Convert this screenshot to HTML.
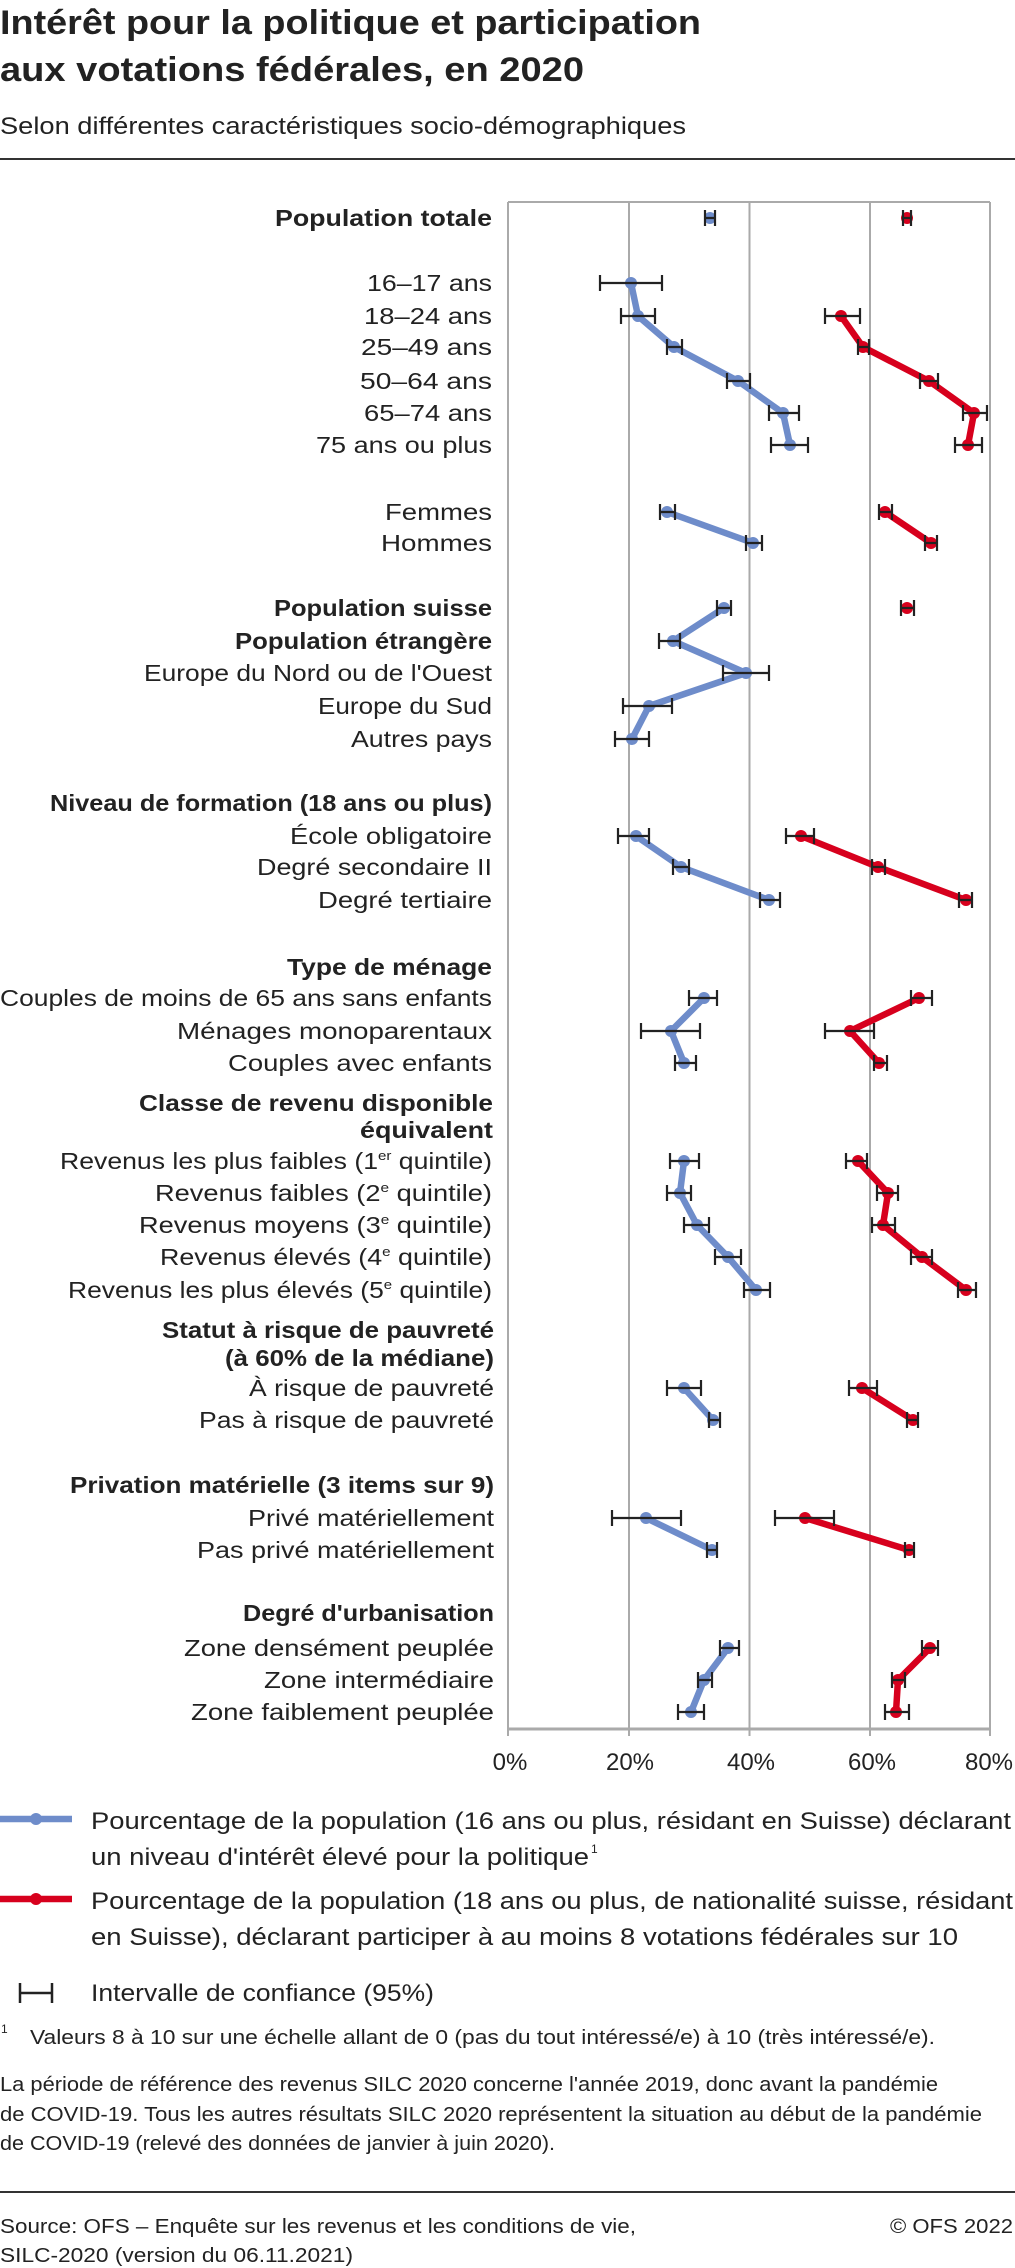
<!DOCTYPE html>
<html><head><meta charset="utf-8"><style>
html,body{margin:0;padding:0;background:#fff;}
svg{display:block;}
text{font-family:"Liberation Sans",sans-serif;fill:#222;}
.b{font-weight:bold;}
.l{font-size:23px;}
</style></head><body>
<svg width="1015" height="2268" viewBox="0 0 1015 2268" xmlns="http://www.w3.org/2000/svg">
<text x="0" y="34" class="b" font-size="34" textLength="701" lengthAdjust="spacingAndGlyphs">Intérêt pour la politique et participation</text>
<text x="0" y="81" class="b" font-size="34" textLength="584" lengthAdjust="spacingAndGlyphs">aux votations fédérales, en 2020</text>
<text x="0" y="134" font-size="24" fill="#333" textLength="686" lengthAdjust="spacingAndGlyphs">Selon différentes caractéristiques socio-démographiques</text>
<line x1="0" y1="159" x2="1015" y2="159" stroke="#333" stroke-width="2"/>

<!-- plot frame -->
<g stroke="#aaa" stroke-width="2" fill="none">
<line x1="508" y1="202" x2="990" y2="202"/>
<line x1="508" y1="202" x2="508" y2="1736"/>
<line x1="629" y1="202" x2="629" y2="1736"/>
<line x1="749.5" y1="202" x2="749.5" y2="1736"/>
<line x1="870" y1="202" x2="870" y2="1736"/>
<line x1="990" y1="202" x2="990" y2="1736"/>
<line x1="508" y1="1729" x2="990" y2="1729" stroke-width="3"/>
</g>
<g font-size="24" text-anchor="middle">
<text x="510" y="1770">0%</text><text x="630" y="1770">20%</text><text x="751" y="1770">40%</text><text x="872" y="1770">60%</text><text x="989" y="1770">80%</text>
</g>

<!-- labels -->
<g class="l">
<text x="275" y="226" class="b" textLength="217" lengthAdjust="spacingAndGlyphs">Population totale</text>
<text x="367" y="291" textLength="125" lengthAdjust="spacingAndGlyphs">16–17 ans</text>
<text x="364" y="324" textLength="128" lengthAdjust="spacingAndGlyphs">18–24 ans</text>
<text x="361" y="355" textLength="131" lengthAdjust="spacingAndGlyphs">25–49 ans</text>
<text x="360" y="389" textLength="132" lengthAdjust="spacingAndGlyphs">50–64 ans</text>
<text x="364" y="421" textLength="128" lengthAdjust="spacingAndGlyphs">65–74 ans</text>
<text x="316" y="453" textLength="176" lengthAdjust="spacingAndGlyphs">75 ans ou plus</text>
<text x="385" y="520" textLength="107" lengthAdjust="spacingAndGlyphs">Femmes</text>
<text x="381" y="551" textLength="111" lengthAdjust="spacingAndGlyphs">Hommes</text>
<text x="274" y="616" class="b" textLength="218" lengthAdjust="spacingAndGlyphs">Population suisse</text>
<text x="235" y="649" class="b" textLength="257" lengthAdjust="spacingAndGlyphs">Population étrangère</text>
<text x="144" y="681" textLength="348" lengthAdjust="spacingAndGlyphs">Europe du Nord ou de l'Ouest</text>
<text x="318" y="714" textLength="174" lengthAdjust="spacingAndGlyphs">Europe du Sud</text>
<text x="351" y="747" textLength="141" lengthAdjust="spacingAndGlyphs">Autres pays</text>
<text x="50" y="811" class="b" textLength="442" lengthAdjust="spacingAndGlyphs">Niveau de formation (18 ans ou plus)</text>
<text x="290" y="844" textLength="202" lengthAdjust="spacingAndGlyphs">École obligatoire</text>
<text x="257" y="875" textLength="235" lengthAdjust="spacingAndGlyphs">Degré secondaire II</text>
<text x="318" y="908" textLength="174" lengthAdjust="spacingAndGlyphs">Degré tertiaire</text>
<text x="287" y="975" class="b" textLength="205" lengthAdjust="spacingAndGlyphs">Type de ménage</text>
<text x="0" y="1006" textLength="492" lengthAdjust="spacingAndGlyphs">Couples de moins de 65 ans sans enfants</text>
<text x="177" y="1039" textLength="315" lengthAdjust="spacingAndGlyphs">Ménages monoparentaux</text>
<text x="228" y="1071" textLength="264" lengthAdjust="spacingAndGlyphs">Couples avec enfants</text>
<text x="139" y="1111" class="b" textLength="354" lengthAdjust="spacingAndGlyphs">Classe de revenu disponible</text>
<text x="360" y="1138" class="b" textLength="133" lengthAdjust="spacingAndGlyphs">équivalent</text>
<text x="60" y="1169" textLength="432" lengthAdjust="spacingAndGlyphs">Revenus les plus faibles (1<tspan dy="-9" font-size="13">er</tspan><tspan dy="9"> quintile)</tspan></text>
<text x="155" y="1201" textLength="337" lengthAdjust="spacingAndGlyphs">Revenus faibles (2<tspan dy="-9" font-size="13">e</tspan><tspan dy="9"> quintile)</tspan></text>
<text x="139" y="1233" textLength="353" lengthAdjust="spacingAndGlyphs">Revenus moyens (3<tspan dy="-9" font-size="13">e</tspan><tspan dy="9"> quintile)</tspan></text>
<text x="160" y="1265" textLength="332" lengthAdjust="spacingAndGlyphs">Revenus élevés (4<tspan dy="-9" font-size="13">e</tspan><tspan dy="9"> quintile)</tspan></text>
<text x="68" y="1298" textLength="424" lengthAdjust="spacingAndGlyphs">Revenus les plus élevés (5<tspan dy="-9" font-size="13">e</tspan><tspan dy="9"> quintile)</tspan></text>
<text x="162" y="1338" class="b" textLength="332" lengthAdjust="spacingAndGlyphs">Statut à risque de pauvreté</text>
<text x="225" y="1366" class="b" textLength="269" lengthAdjust="spacingAndGlyphs">(à 60% de la médiane)</text>
<text x="249" y="1396" textLength="245" lengthAdjust="spacingAndGlyphs">À risque de pauvreté</text>
<text x="199" y="1428" textLength="295" lengthAdjust="spacingAndGlyphs">Pas à risque de pauvreté</text>
<text x="70" y="1493" class="b" textLength="424" lengthAdjust="spacingAndGlyphs">Privation matérielle (3 items sur 9)</text>
<text x="248" y="1526" textLength="246" lengthAdjust="spacingAndGlyphs">Privé matériellement</text>
<text x="197" y="1558" textLength="297" lengthAdjust="spacingAndGlyphs">Pas privé matériellement</text>
<text x="243" y="1621" class="b" textLength="251" lengthAdjust="spacingAndGlyphs">Degré d'urbanisation</text>
<text x="184" y="1656" textLength="310" lengthAdjust="spacingAndGlyphs">Zone densément peuplée</text>
<text x="264" y="1688" textLength="230" lengthAdjust="spacingAndGlyphs">Zone intermédiaire</text>
<text x="191" y="1720" textLength="303" lengthAdjust="spacingAndGlyphs">Zone faiblement peuplée</text>
</g>

<!-- blue lines -->
<g fill="none" stroke="#6e8cca" stroke-width="6.5" stroke-linejoin="round">
<polyline points="631,283 638,316 674,347 738,381 783,413 790,445"/>
<polyline points="667,512 753,543"/>
<polyline points="724,608 673,641 746,673 649,706 632,739"/>
<polyline points="636,836 681,867 769,900"/>
<polyline points="704,998 671,1031 684,1063"/>
<polyline points="684,1161 680,1193 697,1225 728,1257 756,1290"/>
<polyline points="684,1388 713,1420"/>
<polyline points="646,1518 712,1550"/>
<polyline points="728,1648 704,1680 691,1712"/>
</g>
<g fill="none" stroke="#d7001d" stroke-width="6.5" stroke-linejoin="round">
<polyline points="841,316 863,347 929,381 974,413 968,445"/>
<polyline points="885,512 931,543"/>
<polyline points="801,836 878,867 966,900"/>
<polyline points="919,998 850,1031 879,1063"/>
<polyline points="858,1161 888,1193 883,1225 922,1257 966,1290"/>
<polyline points="862,1388 913,1420"/>
<polyline points="805,1518 909,1550"/>
<polyline points="930,1648 898,1680 896,1712"/>
</g>
<g fill="#6e8cca">
<circle cx="710" cy="218" r="6"/>
<circle cx="631" cy="283" r="6"/><circle cx="638" cy="316" r="6"/><circle cx="674" cy="347" r="6"/><circle cx="738" cy="381" r="6"/><circle cx="783" cy="413" r="6"/><circle cx="790" cy="445" r="6"/>
<circle cx="667" cy="512" r="6"/><circle cx="753" cy="543" r="6"/>
<circle cx="724" cy="608" r="6"/><circle cx="673" cy="641" r="6"/><circle cx="746" cy="673" r="6"/><circle cx="649" cy="706" r="6"/><circle cx="632" cy="739" r="6"/>
<circle cx="636" cy="836" r="6"/><circle cx="681" cy="867" r="6"/><circle cx="769" cy="900" r="6"/>
<circle cx="704" cy="998" r="6"/><circle cx="671" cy="1031" r="6"/><circle cx="684" cy="1063" r="6"/>
<circle cx="684" cy="1161" r="6"/><circle cx="680" cy="1193" r="6"/><circle cx="697" cy="1225" r="6"/><circle cx="728" cy="1257" r="6"/><circle cx="756" cy="1290" r="6"/>
<circle cx="684" cy="1388" r="6"/><circle cx="713" cy="1420" r="6"/>
<circle cx="646" cy="1518" r="6"/><circle cx="712" cy="1550" r="6"/>
<circle cx="728" cy="1648" r="6"/><circle cx="704" cy="1680" r="6"/><circle cx="691" cy="1712" r="6"/>
</g>
<g fill="#d7001d">
<circle cx="907" cy="218" r="6"/>
<circle cx="841" cy="316" r="6"/><circle cx="863" cy="347" r="6"/><circle cx="929" cy="381" r="6"/><circle cx="974" cy="413" r="6"/><circle cx="968" cy="445" r="6"/>
<circle cx="885" cy="512" r="6"/><circle cx="931" cy="543" r="6"/>
<circle cx="907" cy="608" r="6"/>
<circle cx="801" cy="836" r="6"/><circle cx="878" cy="867" r="6"/><circle cx="966" cy="900" r="6"/>
<circle cx="919" cy="998" r="6"/><circle cx="850" cy="1031" r="6"/><circle cx="879" cy="1063" r="6"/>
<circle cx="858" cy="1161" r="6"/><circle cx="888" cy="1193" r="6"/><circle cx="883" cy="1225" r="6"/><circle cx="922" cy="1257" r="6"/><circle cx="966" cy="1290" r="6"/>
<circle cx="862" cy="1388" r="6"/><circle cx="913" cy="1420" r="6"/>
<circle cx="805" cy="1518" r="6"/><circle cx="909" cy="1550" r="6"/>
<circle cx="930" cy="1648" r="6"/><circle cx="898" cy="1680" r="6"/><circle cx="896" cy="1712" r="6"/>
</g>
<!-- CI -->
<g fill="none" stroke="#222" stroke-width="2.2">
<path d="M705 218H715M705 210v16M715 210v16"/>
<path d="M600 283H662M600 275v16M662 275v16"/>
<path d="M621 316H655M621 308v16M655 308v16"/>
<path d="M667 347H682M667 339v16M682 339v16"/>
<path d="M727 381H750M727 373v16M750 373v16"/>
<path d="M769 413H799M769 405v16M799 405v16"/>
<path d="M771 445H808M771 437v16M808 437v16"/>
<path d="M660 512H675M660 504v16M675 504v16"/>
<path d="M746 543H762M746 535v16M762 535v16"/>
<path d="M717 608H731M717 600v16M731 600v16"/>
<path d="M659 641H680M659 633v16M680 633v16"/>
<path d="M723 673H769M723 665v16M769 665v16"/>
<path d="M623 706H672M623 698v16M672 698v16"/>
<path d="M615 739H649M615 731v16M649 731v16"/>
<path d="M618 836H649M618 828v16M649 828v16"/>
<path d="M673 867H689M673 859v16M689 859v16"/>
<path d="M760 900H780M760 892v16M780 892v16"/>
<path d="M689 998H717M689 990v16M717 990v16"/>
<path d="M641 1031H700M641 1023v16M700 1023v16"/>
<path d="M675 1063H696M675 1055v16M696 1055v16"/>
<path d="M670 1161H699M670 1153v16M699 1153v16"/>
<path d="M667 1193H691M667 1185v16M691 1185v16"/>
<path d="M684 1225H709M684 1217v16M709 1217v16"/>
<path d="M715 1257H741M715 1249v16M741 1249v16"/>
<path d="M744 1290H770M744 1282v16M770 1282v16"/>
<path d="M667 1388H701M667 1380v16M701 1380v16"/>
<path d="M709 1420H720M709 1412v16M720 1412v16"/>
<path d="M612 1518H681M612 1510v16M681 1510v16"/>
<path d="M707 1550H717M707 1542v16M717 1542v16"/>
<path d="M720 1648H739M720 1640v16M739 1640v16"/>
<path d="M698 1680H712M698 1672v16M712 1672v16"/>
<path d="M678 1712H704M678 1704v16M704 1704v16"/>

<path d="M903 218H911M903 210v16M911 210v16"/>
<path d="M825 316H860M825 308v16M860 308v16"/>
<path d="M858 347H869M858 339v16M869 339v16"/>
<path d="M920 381H938M920 373v16M938 373v16"/>
<path d="M963 413H987M963 405v16M987 405v16"/>
<path d="M955 445H982M955 437v16M982 437v16"/>
<path d="M879 512H892M879 504v16M892 504v16"/>
<path d="M925 543H937M925 535v16M937 535v16"/>
<path d="M901 608H914M901 600v16M914 600v16"/>
<path d="M786 836H814M786 828v16M814 828v16"/>
<path d="M872 867H885M872 859v16M885 859v16"/>
<path d="M959 900H972M959 892v16M972 892v16"/>
<path d="M911 998H932M911 990v16M932 990v16"/>
<path d="M825 1031H874M825 1023v16M874 1023v16"/>
<path d="M874 1063H887M874 1055v16M887 1055v16"/>
<path d="M846 1161H867M846 1153v16M867 1153v16"/>
<path d="M877 1193H898M877 1185v16M898 1185v16"/>
<path d="M872 1225H895M872 1217v16M895 1217v16"/>
<path d="M911 1257H932M911 1249v16M932 1249v16"/>
<path d="M958 1290H976M958 1282v16M976 1282v16"/>
<path d="M849 1388H877M849 1380v16M877 1380v16"/>
<path d="M907 1420H918M907 1412v16M918 1412v16"/>
<path d="M775 1518H834M775 1510v16M834 1510v16"/>
<path d="M905 1550H914M905 1542v16M914 1542v16"/>
<path d="M922 1648H938M922 1640v16M938 1640v16"/>
<path d="M892 1680H905M892 1672v16M905 1672v16"/>
<path d="M885 1712H909M885 1704v16M909 1704v16"/>
</g>

<!-- legend -->
<line x1="0" y1="1819" x2="72" y2="1819" stroke="#6e8cca" stroke-width="6.5"/>
<circle cx="36" cy="1819" r="6" fill="#6e8cca"/>
<text x="91" y="1829" font-size="24" textLength="920" lengthAdjust="spacingAndGlyphs">Pourcentage de la population (16 ans ou plus, résidant en Suisse) déclarant</text>
<text x="91" y="1865" font-size="24" textLength="498" lengthAdjust="spacingAndGlyphs">un niveau d'intérêt élevé pour la politique</text>
<text x="591" y="1853" font-size="12">1</text>
<line x1="0" y1="1899" x2="72" y2="1899" stroke="#d7001d" stroke-width="6.5"/>
<circle cx="36" cy="1899" r="6" fill="#d7001d"/>
<text x="91" y="1909" font-size="24" textLength="922" lengthAdjust="spacingAndGlyphs">Pourcentage de la population (18 ans ou plus, de nationalité suisse, résidant</text>
<text x="91" y="1945" font-size="24" textLength="867" lengthAdjust="spacingAndGlyphs">en Suisse), déclarant participer à au moins 8 votations fédérales sur 10</text>
<path d="M20 1993H52M20 1983v20M52 1983v20" stroke="#222" stroke-width="2.5" fill="none"/>
<text x="91" y="2001" font-size="24" textLength="343" lengthAdjust="spacingAndGlyphs">Intervalle de confiance (95%)</text>
<text x="1" y="2033" font-size="12">1</text>
<text x="30" y="2044" font-size="20" textLength="905" lengthAdjust="spacingAndGlyphs">Valeurs 8 à 10 sur une échelle allant de 0 (pas du tout intéressé/e) à 10 (très intéressé/e).</text>
<text x="0" y="2091" font-size="20" textLength="938" lengthAdjust="spacingAndGlyphs">La période de référence des revenus SILC 2020 concerne l'année 2019, donc avant la pandémie</text>
<text x="0" y="2121" font-size="20" textLength="982" lengthAdjust="spacingAndGlyphs">de COVID-19. Tous les autres résultats SILC 2020 représentent la situation au début de la pandémie</text>
<text x="0" y="2150" font-size="20" textLength="555" lengthAdjust="spacingAndGlyphs">de COVID-19 (relevé des données de janvier à juin 2020).</text>
<line x1="0" y1="2192" x2="1015" y2="2192" stroke="#333" stroke-width="2"/>
<text x="0" y="2233" font-size="20" textLength="636" lengthAdjust="spacingAndGlyphs">Source: OFS – Enquête sur les revenus et les conditions de vie,</text>
<text x="0" y="2262" font-size="20" textLength="353" lengthAdjust="spacingAndGlyphs">SILC-2020 (version du 06.11.2021)</text>
<text x="890" y="2233" font-size="20" textLength="123" lengthAdjust="spacingAndGlyphs">© OFS 2022</text>
</svg>
</body></html>
